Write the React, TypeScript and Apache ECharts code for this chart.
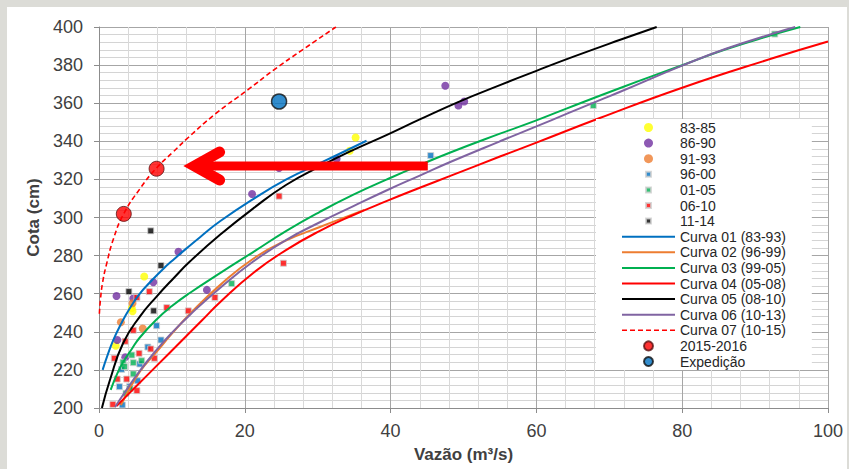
import React, { useEffect, useRef } from "react";
import * as echarts from "echarts";

// ---- Data (Q in m³/s, Cota in cm) ----
const pts8385: [number, number][] = [
  [6.2, 269], [4.5, 252.5], [4.6, 250.8], [2.3, 232.7], [34.4, 335], [35.2, 342],
];
const pts8690: [number, number][] = [
  [2.4, 258.8], [4.7, 257.5], [7.45, 266], [10.9, 282], [14.8, 262], [2.5, 235.7],
  [3.6, 226.6], [21, 312.3], [24.7, 326], [32.6, 330.8], [47.5, 369.2], [49.3, 358.8], [50.1, 360.9],
];
const pts9193: [number, number][] = [
  [4.6, 255], [3.0, 245], [6.0, 241.7],
];
const pts9600: [number, number][] = [
  [7.9, 243.2], [8.5, 235.7], [6.7, 232], [3.1, 220.3], [5.6, 223.1], [2.8, 211.2],
  [4.2, 211.2], [5.3, 214.3], [3.2, 201.6], [45.5, 332.5],
];
const pts0105: [number, number][] = [
  [4.5, 227.8], [3.3, 224], [4.7, 223.8], [5.85, 224.8], [3.5, 221.7], [4.7, 217.9],
  [3.7, 207.7], [4.25, 210.3], [2.2, 199.8], [18.2, 265.3], [67.8, 358.8], [92.7, 396.3],
];
const pts0610: [number, number][] = [
  [6.9, 261.1], [5.2, 258], [9.3, 252.7], [12.25, 251], [15.9, 258], [4.7, 240.8],
  [3.6, 235], [2.1, 226.1], [5.5, 228.7], [7.6, 226.1], [7.1, 231], [2.5, 215.2],
  [3.8, 215.2], [5.2, 209.1], [1.9, 201.9], [24.7, 311.2], [25.3, 276],
];
const pts1114: [number, number][] = [
  [7.1, 293], [8.5, 274.8], [4.1, 261.1], [7.5, 251],
];
const pts20152016: [number, number][] = [[3.4, 301.9], [7.9, 325.6]];
const ptsExpedicao: [number, number][] = [[24.7, 360.9]];

const curva01: [number, number][] = [
  [0.5, 220], [1.2, 228], [2, 236], [3, 244], [4.25, 252.5], [5.6, 260], [7, 266],
  [8.8, 273], [10.4, 278.5], [12, 283.8], [13.9, 289.8], [16.6, 298], [21.2, 309.8],
  [25.7, 320], [30.3, 328.5], [34, 335.3], [36.7, 340.3],
];
const curva02: [number, number][] = [
  [3, 201.5], [5.6, 219], [7.9, 229.5], [10, 239], [12.5, 249.5], [16.6, 264.5],
  [21.2, 278.5], [25.7, 288], [30.3, 295], [33, 299], [36.4, 304],
];
const curva03: [number, number][] = [
  [1.6, 209.5], [2.5, 218], [3.3, 224], [4.5, 231], [5.6, 237], [7.9, 246.5], [10, 253.5],
  [12.5, 260.5], [16.6, 270.8], [21.2, 282], [25.7, 293], [30.3, 303], [34.9, 312],
  [39.5, 320], [44, 327.5], [48.1, 334], [55, 344], [60, 351], [64.2, 357.3],
  [71.5, 368], [79.9, 379.8], [86, 388.3], [92.5, 396], [96.2, 400],
];
const curva04: [number, number][] = [
  [2.4, 201], [5, 211], [8, 222.5], [11, 234], [14, 245.5], [16.6, 255.5],
  [21.2, 271], [25.7, 283], [30.3, 293], [34.9, 301.3], [39.5, 308.7], [44, 315.6],
  [48.1, 321.7], [55, 332], [60, 339.3], [68.7, 352.2], [79.9, 368], [92.5, 383.7],
  [100, 392.4],
];
const curva05: [number, number][] = [
  [0.4, 200], [1.5, 214.7], [3.3, 234], [5.6, 248], [7.9, 258.5], [10.2, 268],
  [12.5, 277], [16.6, 290.9], [21.2, 304.9], [25.7, 317.2], [30.3, 326.8],
  [34.9, 335.5], [39.5, 343.4], [44, 351.5], [49.5, 361], [55, 369.5], [60, 377],
  [65, 384.3], [71.5, 393.3], [76.5, 400],
];
const curva06: [number, number][] = [
  [2.2, 200.5], [3.5, 208], [5.6, 219.5], [7.9, 230.5], [10, 239.5], [12.5, 249],
  [16.6, 263], [21.2, 277], [25.7, 288.3], [30.3, 297.5], [34.9, 306], [39.5, 314.3],
  [44, 322], [48.1, 329], [55, 340], [60, 347.8], [64.2, 354.5], [68.7, 361.6],
  [71.5, 366], [79.9, 379.6], [86, 388.6], [92.5, 396.6], [95.5, 400],
];
const curva07: [number, number][] = [
  [0.05, 249.5], [0.2, 257], [0.5, 266], [1, 275], [2, 289], [3.4, 302], [5.6, 315],
  [7.9, 326], [10.2, 334.5], [12.25, 342], [16, 354.5], [20.4, 367], [24, 377.5],
  [27.6, 387.2], [32.5, 400],
];

const X_TICKS = { min: 0, max: 100, interval: 20 };
const Y_TICKS = { min: 200, max: 400, interval: 20 };

// Arrow annotation (data coordinates)
const ARROW_TAIL: [number, number] = [45.1, 327];
const ARROW_TIP: [number, number] = [11.6, 327];

const FONT = "Liberation Sans, Arial, sans-serif";
const SQ = "path://M0,0M9,9M2,2h5v5h-5z";
const LINE_ICON = "path://M0,0h53v2h-53z";
const DASH_ICON =
  "path://M0,0h5v1.6h-5zM8,0h5v1.6h-5zM16,0h5v1.6h-5zM24,0h5v1.6h-5zM32,0h5v1.6h-5zM40,0h5v1.6h-5zM48,0h5v1.6h-5z";

export default function App() {
  const ref = useRef<HTMLDivElement>(null);
  useEffect(() => {
    if (!ref.current) return;
    const chart = echarts.init(ref.current, null, { renderer: "svg" });

    const scatter = (name: string, data: [number, number][], color: string, square: boolean) => ({
      name,
      type: "scatter",
      data,
      symbol: square ? "rect" : "circle",
      symbolSize: square ? 6 : 8,
      itemStyle: square
        ? { color, borderColor: "#d0d0d0", borderWidth: 1 }
        : { color },
      z: 2,
    });
    const curve = (name: string, data: [number, number][], color: string, dashed = false) => ({
      name,
      type: "line",
      data,
      smooth: 0.5,
      symbol: "none",
      showSymbol: false,
      lineStyle: { color, width: dashed ? 1.6 : 2, type: dashed ? [5, 3] : "solid" },
      itemStyle: { color },
      z: 3,
    });

    const option: any = {
      animation: false,
      backgroundColor: "#ffffff",
      grid: { left: 92, right: 19, top: 20, bottom: 61 },
      xAxis: {
        type: "value",
        ...X_TICKS,
        name: "Vazão (m³/s)",
        nameLocation: "middle",
        nameGap: 38,
        nameTextStyle: { fontFamily: FONT, fontSize: 17, fontWeight: "bold", color: "#404040" },
        axisLine: { show: true, lineStyle: { color: "#8c8c8c" } },
        axisTick: { show: true, length: 5, lineStyle: { color: "#8c8c8c" } },
        axisLabel: { fontFamily: FONT, fontSize: 18, color: "#404040", margin: 14 },
        splitLine: { show: true, lineStyle: { color: "#a6a6a6" } },
        minorTick: { show: false, splitNumber: 5 },
        minorSplitLine: { show: true, lineStyle: { color: "#d9d9d9" } },
      },
      yAxis: {
        type: "value",
        ...Y_TICKS,
        name: "Cota (cm)",
        nameLocation: "middle",
        nameGap: 57,
        nameTextStyle: { fontFamily: FONT, fontSize: 17, fontWeight: "bold", color: "#404040" },
        axisLine: { show: true, lineStyle: { color: "#8c8c8c" } },
        axisTick: { show: true, length: 5, lineStyle: { color: "#8c8c8c" } },
        axisLabel: { fontFamily: FONT, fontSize: 18, color: "#404040", margin: 16 },
        splitLine: { show: true, lineStyle: { color: "#a6a6a6" } },
        minorTick: { show: false, splitNumber: 5 },
        minorSplitLine: { show: true, lineStyle: { color: "#d4d4d4" } },
      },
      legend: {
        orient: "vertical",
        left: 589,
        top: 112,
        z: 10,
        backgroundColor: "#ffffff",
        padding: [1, 26, 1, 26],
        itemWidth: 53,
        itemHeight: 9,
        itemGap: 0.6,
        selectedMode: false,
        textStyle: { fontFamily: FONT, fontSize: 14, color: "#262626", lineHeight: 15 },
        data: [
          { name: "83-85", icon: "circle" },
          { name: "86-90", icon: "circle" },
          { name: "91-93", icon: "circle" },
          { name: "96-00", icon: SQ },
          { name: "01-05", icon: SQ },
          { name: "06-10", icon: SQ },
          { name: "11-14", icon: SQ },
          { name: "Curva 01 (83-93)", icon: LINE_ICON },
          { name: "Curva 02 (96-99)", icon: LINE_ICON },
          { name: "Curva 03 (99-05)", icon: LINE_ICON },
          { name: "Curva 04 (05-08)", icon: LINE_ICON },
          { name: "Curva 05 (08-10)", icon: LINE_ICON },
          { name: "Curva 06 (10-13)", icon: LINE_ICON },
          { name: "Curva 07 (10-15)", icon: DASH_ICON },
          { name: "2015-2016", icon: "circle" },
          { name: "Expedição", icon: "circle" },
        ],
      },
      series: [
        scatter("83-85", pts8385, "#ffff00", false),
        scatter("86-90", pts8690, "#7030a0", false),
        scatter("91-93", pts9193, "#ed7d31", false),
        scatter("96-00", pts9600, "#0070c0", true),
        scatter("01-05", pts0105, "#00b050", true),
        scatter("06-10", pts0610, "#ff0000", true),
        scatter("11-14", pts1114, "#000000", true),
        curve("Curva 01 (83-93)", curva01, "#0070c0"),
        curve("Curva 02 (96-99)", curva02, "#ed7d31"),
        curve("Curva 03 (99-05)", curva03, "#00b050"),
        curve("Curva 04 (05-08)", curva04, "#ff0000"),
        curve("Curva 05 (08-10)", curva05, "#000000"),
        curve("Curva 06 (10-13)", curva06, "#8064a2"),
        curve("Curva 07 (10-15)", curva07, "#ff0000", true),
        {
          name: "2015-2016",
          type: "scatter",
          data: pts20152016,
          symbol: "circle",
          symbolSize: 15,
          itemStyle: { color: "#ff0000", borderColor: "#5a1010", borderWidth: 1 },
          z: 4,
        },
        {
          name: "Expedição",
          type: "scatter",
          data: ptsExpedicao,
          symbol: "circle",
          symbolSize: 15,
          itemStyle: { color: "#0070c0", borderColor: "#111111", borderWidth: 1.5 },
          z: 4,
        },
      ],
    };
    chart.setOption(option);

    const tail = chart.convertToPixel({ gridIndex: 0 }, ARROW_TAIL) as number[];
    const tip = chart.convertToPixel({ gridIndex: 0 }, ARROW_TIP) as number[];
    const vx = tip[0] + 11;
    chart.setOption({
      graphic: [
        {
          type: "line",
          z: 20,
          shape: { x1: vx + 4, y1: tip[1], x2: tail[0], y2: tail[1] },
          style: { stroke: "#ff0000", lineWidth: 9 },
        },
        {
          type: "polyline",
          z: 20,
          shape: {
            points: [
              [vx + 25, tip[1] - 14],
              [vx, tip[1]],
              [vx + 25, tip[1] + 14],
            ],
          },
          style: { stroke: "#ff0000", lineWidth: 11, lineCap: "round", lineJoin: "miter", fill: "none" },
        },
      ],
    });

    return () => chart.dispose();
  }, []);

  return (
    <div
      style={{
        position: "fixed",
        left: 0,
        top: 0,
        width: 849,
        height: 469,
        background: "#dcdcd7",
        overflow: "hidden",
      }}
    >
      <div
        ref={ref}
        style={{ position: "absolute", left: 7, top: 7, width: 840, height: 462, background: "#ffffff" }}
      />
    </div>
  );
}
